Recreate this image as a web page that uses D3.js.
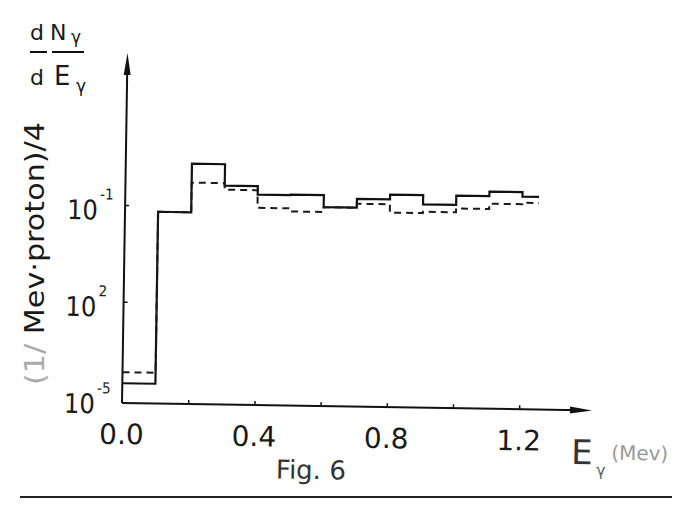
<!DOCTYPE html>
<html>
<head>
<meta charset="utf-8">
<script src="https://cdnjs.cloudflare.com/ajax/libs/d3/7.8.5/d3.min.js"></script>
<style>
    body { margin: 0; background: #fff; }
    svg { display: block; }
    text { font-family: "DejaVu Sans", sans-serif; fill: #1a1a1a; }
</style>
</head>
<body>
<script>

// bin edges in E_gamma (MeV) and dN/dE for the two histograms
var binEdges = [0.0, 0.1, 0.2, 0.3, 0.4, 0.5, 0.6, 0.7, 0.8, 0.9, 1.0, 1.1, 1.2, 1.25];
var solidValues = [0.00144, 0.086, 0.273, 0.164, 0.134, 0.136, 0.102, 0.126, 0.141, 0.113, 0.141, 0.157, 0.141];
var dashedValues = [0.00187, 0.086, 0.174, 0.149, 0.098, 0.091, 0.102, 0.112, 0.092, 0.095, 0.104, 0.118, 0.122];

// ticks and their labels, as printed
var xTickValues = [0.2, 0.4, 0.6, 0.8, 1.0, 1.2];
var xLabelValues = [0.0, 0.4, 0.8, 1.2];
var xLabelTexts = ["0.0", "0.4", "0.8", "1.2"];
var yTickValues = [0.01, 0.1];
var yLabelValues = [0.001, 0.01, 0.1];
var yLabelExps = ["-5", "2", "-1"];

var width = 698,
    height = 517;

var svg = d3.select("body").append("svg")
    .attr("width", width)
    .attr("height", height);

// scales (axis runs from the origin up/right to the arrow tips)
var x = d3.scaleLinear().domain([0, 1.42]).range([122, 592]);
var y = d3.scaleLog().domain([0.0009, 3.7]).range([403, 53]);
var baseY = y(0.0009);

// the scanned figure sits slightly rotated on the page
var g = svg.append("g")
    .attr("transform", "rotate(0.9," + x(0) + "," + baseY + ")");

// axis lines with arrow heads
g.append("line")
    .attr("x1", x(0)).attr("y1", baseY)
    .attr("x2", x(0)).attr("y2", y(3.7) + 12)
    .attr("stroke", "#111").attr("stroke-width", 2);
g.append("path")
    .attr("d", "M" + x(0) + "," + y(3.7) + "L" + (x(0) - 3.5) + "," + (y(3.7) + 22) + "L" + (x(0) + 3.5) + "," + (y(3.7) + 22) + "Z")
    .attr("fill", "#111");

g.append("line")
    .attr("x1", x(0)).attr("y1", baseY)
    .attr("x2", x(1.42) - 12).attr("y2", baseY)
    .attr("stroke", "#111").attr("stroke-width", 2);
g.append("path")
    .attr("d", "M" + x(1.42) + "," + baseY + "L" + (x(1.42) - 22) + "," + (baseY - 3.5) + "L" + (x(1.42) - 22) + "," + (baseY + 3.5) + "Z")
    .attr("fill", "#111");

// small tick marks
var xAxis = g.append("g")
    .attr("transform", "translate(0," + baseY + ")")
    .call(d3.axisBottom(x).tickValues(xTickValues).tickSize(-4).tickFormat(""));
xAxis.select(".domain").remove();
xAxis.selectAll("line").attr("stroke", "#111").attr("stroke-width", 1.5);

var yAxis = g.append("g")
    .attr("transform", "translate(" + x(0) + ",0)")
    .call(d3.axisRight(y).tickValues(yTickValues).tickSize(4).tickFormat(""));
yAxis.select(".domain").remove();
yAxis.selectAll("line").attr("stroke", "#111").attr("stroke-width", 1.5);

// tick labels
g.selectAll(".xlabel")
    .data(xLabelValues)
    .enter().append("text")
    .attr("class", "xlabel")
    .attr("x", function (d) { return x(d); })
    .attr("y", baseY + 41)
    .attr("text-anchor", "middle")
    .style("font-size", "28px")
    .text(function (d, i) { return xLabelTexts[i]; });

var yl = g.selectAll(".ylabel")
    .data(yLabelValues)
    .enter().append("text")
    .attr("class", "ylabel")
    .attr("x", 64)
    .attr("y", function (d) { return y(d) + 15; })
    .style("font-family", "'DejaVu Sans Condensed', 'Liberation Sans Narrow', 'DejaVu Sans', sans-serif");
yl.append("tspan")
    .style("font-size", "27px")
    .text("10");
yl.append("tspan")
    .attr("dx", 2)
    .attr("dy", -20)
    .style("font-size", "15px")
    .text(function (d, i) { return yLabelExps[i]; });

// histograms drawn as steps
var stepLine = d3.line()
    .x(function (d) { return x(d[0]); })
    .y(function (d) { return y(d[1]); })
    .curve(d3.curveStepAfter);

function steps(vals) {
    var pts = vals.map(function (v, i) { return [binEdges[i], v]; });
    pts.push([binEdges[vals.length], vals[vals.length - 1]]);
    return pts;
}

g.append("path")
    .attr("d", stepLine(steps(solidValues)))
    .attr("fill", "none")
    .attr("stroke", "#111")
    .attr("stroke-width", 2.2);

g.append("path")
    .attr("d", stepLine(steps(dashedValues)))
    .attr("fill", "none")
    .attr("stroke", "#1a1a1a")
    .attr("stroke-width", 2)
    .attr("stroke-dasharray", "7,5");

// x axis title and caption
g.append("text")
    .attr("x", 572).attr("y", 457)
    .style("font-size", "34px")
    .style("fill", "#333")
    .text("E");
g.append("text")
    .attr("x", 597).attr("y", 468)
    .style("font-size", "16px")
    .style("fill", "#666")
    .text("γ");
g.append("text")
    .attr("x", 612).attr("y", 452)
    .style("font-size", "20px")
    .style("fill", "#999")
    .text("(Mev)");

g.append("text")
    .attr("x", 277).attr("y", 476)
    .style("font-size", "26px")
    .style("fill", "#333")
    .text("Fig. 6");

// y axis title: dN/dE fraction
svg.append("text").attr("x", 30).attr("y", 40).style("font-size", "22px").text("d");
svg.append("text").attr("x", 50).attr("y", 40).style("font-size", "22px").text("N");
svg.append("text").attr("x", 71).attr("y", 43).style("font-size", "17px").text("γ");
svg.append("line")
    .attr("x1", 30).attr("y1", 52).attr("x2", 84).attr("y2", 52)
    .attr("stroke", "#111").attr("stroke-width", 2)
    .attr("stroke-dasharray", "17,5,40");
svg.append("text").attr("x", 30).attr("y", 85).style("font-size", "22px").text("d");
svg.append("text").attr("x", 54).attr("y", 85).style("font-size", "26px").text("E");
svg.append("text").attr("x", 76).attr("y", 92).style("font-size", "17px").text("γ");

var ylab = svg.append("text")
    .attr("transform", "translate(44,385) rotate(-90)")
    .attr("textLength", 263)
    .attr("lengthAdjust", "spacingAndGlyphs")
    .style("font-size", "27px");
ylab.append("tspan").style("fill", "#aaa").text("(1/ ");
ylab.append("tspan").text("Mev·proton)/4");

// rule under the figure
svg.append("line")
    .attr("x1", 20).attr("y1", 497).attr("x2", 672).attr("y2", 497)
    .attr("stroke", "#222").attr("stroke-width", 2);

</script>
</body>
</html>
